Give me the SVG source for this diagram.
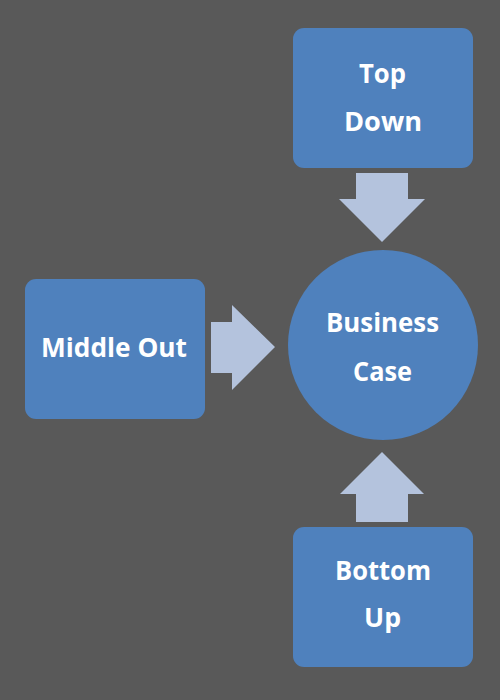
<svg xmlns="http://www.w3.org/2000/svg" width="500" height="700" viewBox="0 0 500 700">
<style>
.box{fill:#4F81BD}
.arr{fill:#B4C3DD}
.t{font-family:"Open Sans","Liberation Sans",sans-serif;font-weight:bold;font-size:27px;fill:#FFFFFF;text-anchor:middle}
</style>
<rect width="500" height="700" fill="#595959"/>
<g id="connectors">
<polygon class="arr" points="356,173 408,173 408,199 425,199 382,242 339,199 356,199"/>
<polygon class="arr" points="211,322 232,322 232,305 275,347 232,390 232,373 211,373"/>
<polygon class="arr" points="382,452 424,494 408,494 408,522 356,522 356,494 340,494"/>
</g>
<g id="top-down">
<rect class="box" x="293" y="28" width="180" height="140" rx="11"/>
<text class="t" x="382.5" y="83" textLength="47" lengthAdjust="spacingAndGlyphs">Top</text>
<text class="t" x="383" y="131" textLength="78" lengthAdjust="spacingAndGlyphs">Down</text>
</g>
<g id="middle-out">
<rect class="box" x="25" y="279" width="180" height="140" rx="11"/>
<text class="t" x="114" y="357" textLength="146" lengthAdjust="spacingAndGlyphs">Middle Out</text>
</g>
<g id="business-case">
<circle class="box" cx="383" cy="345" r="95"/>
<text class="t" x="382.5" y="332" textLength="113" lengthAdjust="spacingAndGlyphs">Business</text>
<text class="t" x="382.5" y="381" textLength="59" lengthAdjust="spacingAndGlyphs">Case</text>
</g>
<g id="bottom-up">
<rect class="box" x="293" y="527" width="180" height="140" rx="11"/>
<text class="t" x="383" y="580" textLength="96" lengthAdjust="spacingAndGlyphs">Bottom</text>
<text class="t" x="382.5" y="627" textLength="37" lengthAdjust="spacingAndGlyphs">Up</text>
</g>
</svg>
